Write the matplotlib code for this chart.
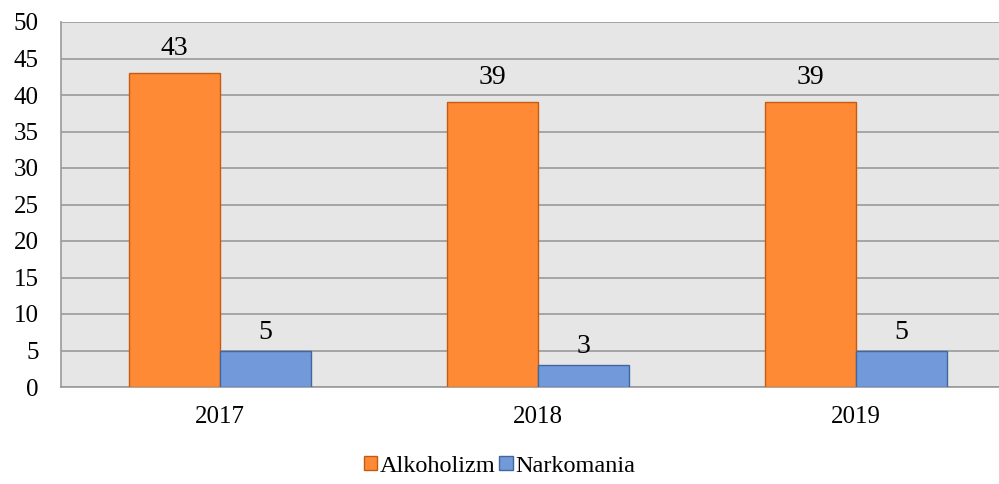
import numpy as np
import matplotlib.pyplot as plt

years = ['2017', '2018', '2019']
alkoholizm = [43, 39, 39]
narkomania = [5, 3, 5]

plt.rcParams['font.family'] = ['Liberation Serif', 'DejaVu Serif']

fig = plt.figure(figsize=(9.99, 4.84), dpi=100)
# plot area runs past the right edge of the picture, as in the original
ax = fig.add_axes([61 / 999, 1 - 387 / 484, 954 / 999, 365 / 484])
ax.set_facecolor('#E7E6E6')

x = np.arange(len(years))
w = 0.287
b1 = ax.bar(x - w / 2, alkoholizm, w, color='#FF8A35', edgecolor='#C55A11', linewidth=1, label='Alkoholizm', zorder=3)
b2 = ax.bar(x + w / 2, narkomania, w, color='#7299D9', edgecolor='#41679E', linewidth=1, label='Narkomania', zorder=3)

for bars, off in ((b1, 2.5), (b2, 1.6)):
    for r in bars:
        ax.text(r.get_x() + r.get_width() / 2, r.get_height() + off, str(int(r.get_height())),
                ha='center', va='baseline', fontsize=20, zorder=4)

ax.set_xlim(-0.5, 2.5)
ax.set_ylim(0, 50)
ax.set_yticks(range(0, 51, 5))
ax.set_xticks(x)
ax.set_xticklabels(years)
ax.yaxis.grid(True, color='#9A9A9A', linewidth=1.2, zorder=0)
ax.tick_params(axis='y', labelsize=18, length=0, pad=16)
ax.tick_params(axis='x', labelsize=18, length=0, pad=14)
for s in ['top', 'right']:
    ax.spines[s].set_visible(False)
ax.spines['left'].set_color('#9A9A9A')
ax.spines['bottom'].set_color('#9A9A9A')
ax.spines['left'].set_linewidth(1.2)
ax.spines['bottom'].set_linewidth(1.2)

fig.legend(loc='lower center', bbox_to_anchor=(0.5, -0.03), ncol=2, frameon=False, fontsize=17.5,
           handlelength=0.55, handleheight=0.55, handletextpad=0.1, columnspacing=0.15)

fig.savefig('out.png', dpi=100)
